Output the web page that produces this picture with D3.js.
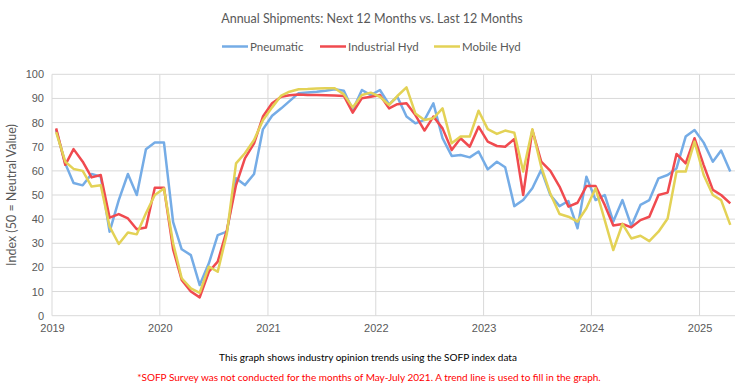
<!DOCTYPE html>
<html>
<head>
<meta charset="utf-8">
<script src="https://cdn.jsdelivr.net/npm/d3@7"></script>
<style>
  body { margin: 0; background: #fff; }
  svg { display: block; font-family: Lato, "Open Sans", sans-serif; }
</style>
</head>
<body>
<div class="chart"></div>
<script>
// Monthly readings, Jan 2019 - Apr 2025
const months = d3.timeMonth.range(new Date(2019, 0, 1), new Date(2025, 4, 1));
const yearTicks = [2019, 2020, 2021, 2022, 2023, 2024, 2025];
const yTicks = [0, 10, 20, 30, 40, 50, 60, 70, 80, 90, 100];

const pneumatic = [
    77, 63, 55, 54, 58.7, 57.6, 34.8, 47.9, 58.7, 50, 69, 71.7,
    71.7, 38.8, 27.5, 25.1, 12.7, 21.7, 33.4, 34.8, 56.9, 54.1, 58.7, 77.2,
    82.8, 85.9, 88.9, 92.2, 92.5, 92.8, 93.2, 93.8, 93.2, 85.2, 93.5, 91.4,
    93.5, 87.5, 90.7, 82.5, 79.7, 81.1, 88, 73.5, 66.2, 66.6, 65.6, 68,
    60.6, 63.8, 61.5, 45.4, 47.9, 52.8, 60.4, 50, 45.4, 47.5, 36.2, 57.6,
    47.9, 50, 39, 47.9, 37.2, 45.9, 47.9, 56.9, 58.3, 61, 74.2, 76.9,
    71.7, 63.8, 68.4, 59.7
];
const industrialHyd = [
    77.6, 62.5, 69, 63.8, 57.3, 58.3, 40.6, 42.1, 40.3, 35.8, 36.5, 53,
    53, 27.5, 14.8, 10, 7.6, 18.2, 22.4, 35.5, 54.1, 65.2, 71.4, 82.5,
    88, 90.7, 91.3, 91.6, 91.4, 91.4, 91.3, 91.2, 91, 84.1, 90.1, 90.7,
    91.4, 85.9, 87.6, 88, 83.1, 76.7, 82.5, 77.6, 68.6, 73.5, 70, 78.3,
    72.1, 70.3, 70, 73.2, 50, 76.9, 63.8, 60, 53.5, 45.2, 46.8, 53.7,
    53.7, 45.9, 37.4, 38, 36.6, 39.6, 41, 50, 51, 67, 63.1, 73.5,
    62.4, 52.1, 50, 46.5
];
const mobileHyd = [
    76, 63.8, 60.8, 60, 53.5, 54, 36.9, 29.7, 34.5, 33.7, 42.4, 50,
    52.7, 30, 15.5, 11.3, 9.5, 20.3, 18.2, 34.1, 63.1, 67.3, 72.8, 81,
    86.3, 91.2, 92.8, 93.8, 93.9, 94.1, 94.2, 94.2, 91.7, 86.3, 91.4, 92.4,
    90.7, 87.3, 91, 94.6, 83.8, 81.1, 81.8, 85.9, 71.4, 74.2, 74.2, 84.9,
    77.3, 75.3, 76.7, 75.8, 59.7, 77.2, 61.7, 50.5, 42.1, 41, 39, 44.5,
    52.8, 39.6, 27.2, 38, 32, 33.1, 30.9, 34.8, 40.3, 59.7, 59.7, 72.1,
    58.3, 50, 47.9, 37.6
];

const series = [
    { name: "Pneumatic", values: pneumatic, color: "#75acE6" },
    { name: "Industrial Hyd", values: industrialHyd, color: "#f04a4f" },
    { name: "Mobile Hyd", values: mobileHyd, color: "#e3d256" }
];

const width = 743, height = 384;
const plot = { left: 52, right: 735, top: 74.3, bottom: 315.7 };

const svg = d3.select(".chart").append("svg")
    .attr("width", width)
    .attr("height", height);

const x = d3.scaleTime()
    .domain([new Date(2019, 0, 1), new Date(2025, 4, 1)])
    .range([plot.left, plot.right]);

const y = d3.scaleLinear()
    .domain([0, 100])
    .range([plot.bottom, plot.top]);

// mid-month position for each point
const midMonth = d => new Date(d.getFullYear(), d.getMonth(), 15);

// horizontal gridlines
svg.append("g")
    .selectAll("line")
    .data(yTicks)
    .enter()
    .append("line")
    .attr("x1", plot.left)
    .attr("x2", plot.right)
    .attr("y1", d => y(d))
    .attr("y2", d => y(d))
    .attr("stroke", "#d9d9d9")
    .attr("stroke-width", 1);

// vertical gridlines at each year
svg.append("g")
    .selectAll("line")
    .data(yearTicks)
    .enter()
    .append("line")
    .attr("x1", d => x(new Date(d, 0, 1)))
    .attr("x2", d => x(new Date(d, 0, 1)))
    .attr("y1", plot.top)
    .attr("y2", plot.bottom)
    .attr("stroke", "#d9d9d9")
    .attr("stroke-width", 1);

// y axis labels
const yAxis = svg.append("g")
    .attr("transform", `translate(${plot.left - 8}, 0)`)
    .call(d3.axisLeft(y).tickValues(yTicks).tickSize(0).tickPadding(0));
yAxis.select(".domain").remove();
yAxis.selectAll("text")
    .attr("fill", "#595959")
    .style("font-size", "11px");

// x axis labels
const xAxis = svg.append("g")
    .attr("transform", `translate(0, ${plot.bottom + 8})`)
    .call(d3.axisBottom(x)
        .tickValues(yearTicks.map(d => new Date(d, 0, 1)))
        .tickFormat(d3.timeFormat("%Y"))
        .tickSize(0)
        .tickPadding(0));
xAxis.select(".domain").remove();
xAxis.selectAll("text")
    .attr("fill", "#595959")
    .style("font-size", "11px");

// lines
const line = d3.line()
    .x((d, i) => x(midMonth(months[i])))
    .y(d => y(d));

svg.append("g")
    .selectAll("path")
    .data(series)
    .enter()
    .append("path")
    .attr("fill", "none")
    .attr("stroke", d => d.color)
    .attr("stroke-width", 2.5)
    .attr("stroke-linejoin", "round")
    .attr("d", d => line(d.values));

// title
svg.append("text")
    .attr("x", 372)
    .attr("y", 23)
    .attr("text-anchor", "middle")
    .attr("fill", "#595959")
    .style("font-size", "12.5px")
    .text("Annual Shipments: Next 12 Months vs. Last 12 Months");

// legend
const legendX = [222, 320, 434];
const legend = svg.append("g")
    .selectAll("g")
    .data(series)
    .enter()
    .append("g")
    .attr("transform", (d, i) => `translate(${legendX[i]}, 46.5)`);
legend.append("line")
    .attr("x1", 0)
    .attr("x2", 26)
    .attr("stroke", d => d.color)
    .attr("stroke-width", 2.5);
legend.append("text")
    .attr("x", 28)
    .attr("y", 4)
    .attr("fill", "#595959")
    .style("font-size", "11.5px")
    .text(d => d.name);

// y axis title
svg.append("text")
    .attr("transform", "rotate(-90)")
    .attr("x", -195)
    .attr("y", 16)
    .attr("text-anchor", "middle")
    .attr("fill", "#595959")
    .style("font-size", "12.5px")
    .text("Index (50 = Neutral Value)");

// notes
svg.append("text")
    .attr("x", 368)
    .attr("y", 361)
    .attr("text-anchor", "middle")
    .attr("fill", "#000")
    .style("font-size", "10px")
    .text("This graph shows industry opinion trends using the SOFP index data");

svg.append("text")
    .attr("x", 369)
    .attr("y", 381)
    .attr("text-anchor", "middle")
    .attr("fill", "#ff0000")
    .style("font-size", "10px")
    .text("*SOFP Survey was not conducted for the months of May-July 2021. A trend line is used to fill in the graph.");
</script>
</body>
</html>
